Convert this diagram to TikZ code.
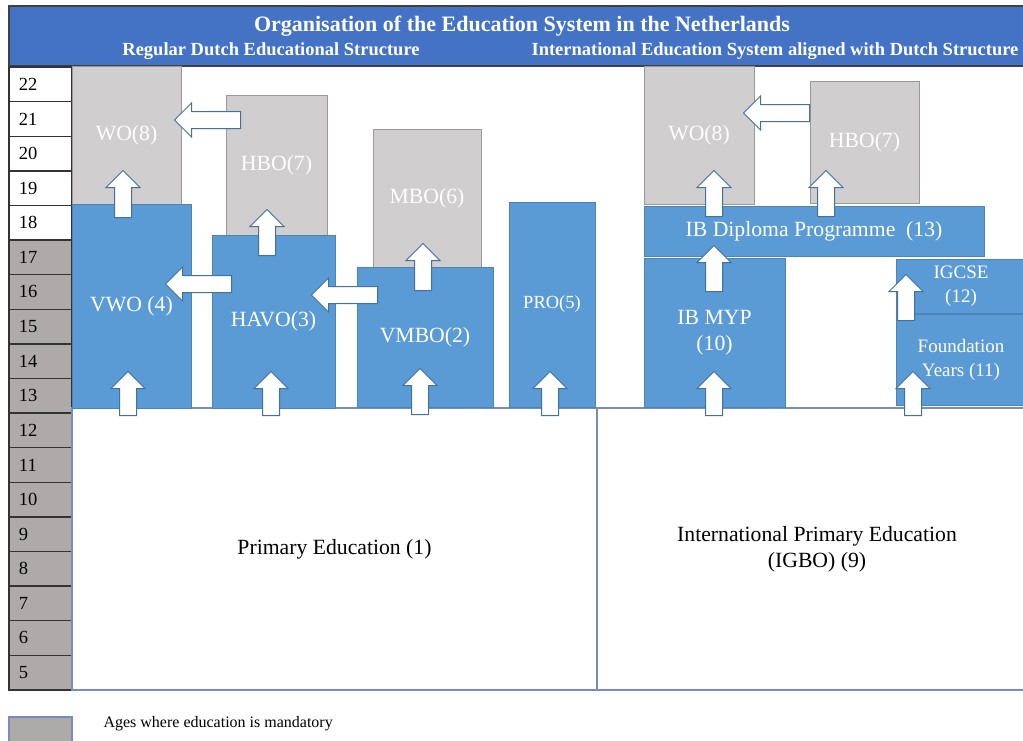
\documentclass[tikz,border=0pt]{standalone}
\usepackage{fontspec}
\setmainfont{Liberation Serif}
\usepackage{xcolor}
\usepackage{tikz}
\usetikzlibrary{shapes.arrows}
\definecolor{Head-Blue}{RGB}{ 68,114,196}
\definecolor{Box-Blue}{RGB}{ 91,155,213}
\definecolor{Box-Gray}{RGB}{208,206,206}
\definecolor{Age-Gray}{RGB}{174,170,170}
\definecolor{Arrow-Line}{RGB}{ 65,113,156}
\definecolor{Frame-Blue}{RGB}{118,140,190}
\tikzstyle{b}=[rectangle,inner sep=0pt,align=center,text=white,font=\fontsize{21.7}{26}\selectfont]
\tikzstyle{b-blue}=[b,fill=Box-Blue,draw=Box-Blue!85!black,line width=0.8pt]
\tikzstyle{b-gray}=[b,fill=Box-Gray,draw=black!40,line width=0.8pt]
\tikzstyle{stage}=[b,fill=white,draw=Frame-Blue,line width=1.3pt,text=black]
\tikzstyle{age}=[rectangle,draw=black!80,line width=1.4pt,minimum height=34.6pt,text width=43pt,inner xsep=10pt,inner ysep=0pt,align=left,font=\fontsize{18.5}{22}\selectfont]
\tikzstyle{age-free}=[age,fill=white]
\tikzstyle{age-due}=[age,fill=Age-Gray]
\tikzstyle{a}=[single arrow,draw=Arrow-Line,fill=white,line width=1pt,inner sep=8pt,single arrow head extend=8.5pt,anchor=tail]
\tikzstyle{a-up}=[a,rotate=90]
\tikzstyle{a-left}=[a,rotate=180]

\begin{document}
\begin{tikzpicture}[x=1pt,y=-1pt]
\useasboundingbox (0,0) rectangle (1023,740);

% Header
\node[rectangle,fill=Head-Blue,draw=black!75,line width=1.3pt,minimum width=1030pt,minimum height=60pt] (header) at (524,36) {};
\node[text=white,font=\bfseries\fontsize{22}{26}\selectfont] (title) at (522,26) {Organisation of the Education System in the Netherlands};
\node[text=white,font=\bfseries\fontsize{18.5}{22}\selectfont] (dutch) at (271,51) {Regular Dutch Educational Structure};
\node[text=white,font=\bfseries\fontsize{18.5}{22}\selectfont] (intl)  at (775,51) {International Education System aligned with Dutch Structure};

% Ages
\node[age-free] (age22) at (40.5, 84.3) {22};
\node[age-free] (age21) at (40.5,118.9) {21};
\node[age-free] (age20) at (40.5,153.5) {20};
\node[age-free] (age19) at (40.5,188.1) {19};
\node[age-free] (age18) at (40.5,222.7) {18};
\node[age-due]  (age17) at (40.5,257.3) {17};
\node[age-due]  (age16) at (40.5,291.9) {16};
\node[age-due]  (age15) at (40.5,326.5) {15};
\node[age-due]  (age14) at (40.5,361.1) {14};
\node[age-due]  (age13) at (40.5,395.7) {13};
\node[age-due]  (age12) at (40.5,430.3) {12};
\node[age-due]  (age11) at (40.5,464.9) {11};
\node[age-due]  (age10) at (40.5,499.5) {10};
\node[age-due]  (age9)  at (40.5,534.1) {9};
\node[age-due]  (age8)  at (40.5,568.7) {8};
\node[age-due]  (age7)  at (40.5,603.3) {7};
\node[age-due]  (age6)  at (40.5,637.9) {6};
\node[age-due]  (age5)  at (40.5,672.5) {5};

% Primary
\node[stage,minimum width=525pt,minimum height=282pt] (primary)      at (334.5,549) {Primary Education (1)};
\node[stage,minimum width=440pt,minimum height=282pt] (intl primary) at (817,549)   {International Primary Education\\(IGBO) (9)};

% Dutch structure
\node[b-gray,minimum width=109pt,minimum height=138pt] (wo)   at (126.5,135) {WO(8)};
\node[b-gray,minimum width=101pt,minimum height=140pt] (hbo)  at (276.5,165) {HBO(7)};
\node[b-gray,minimum width=108pt,minimum height=138pt] (mbo)  at (427,198)   {MBO(6)};
\node[b-blue,minimum width=119pt,minimum height=204pt] (vwo)  at (131.5,306) {VWO (4)};
\node[b-blue,minimum width=123pt,minimum height=173pt] (havo) at (273.5,321.5) {HAVO(3)};
\node[b-blue,minimum width=136pt,minimum height=140pt] (vmbo) at (425,337)   {VMBO(2)};
\node[b-blue,minimum width=86pt,minimum height=205pt,font=\fontsize{18.5}{22}\selectfont] (pro) at (552,304.5) {PRO(5)};

% International structure
\node[b-gray,minimum width=110pt,minimum height=138pt] (ib wo)  at (699,135)   {WO(8)};
\node[b-gray,minimum width=109pt,minimum height=122pt] (ib hbo) at (864.5,142) {HBO(7)};
\node[b-blue,minimum width=340pt,minimum height=50pt]  (ibdp)   at (814,231)   {IB Diploma Programme\ \ (13)};
\node[b-blue,minimum width=141pt,minimum height=149pt] (myp)    at (714.5,333) {IB MYP\\(10)};
\node[b-blue,minimum width=130pt,minimum height=54pt,font=\fontsize{19}{24}\selectfont]  (igcse)      at (961,286)   {IGCSE\\(12)};
\node[b-blue,minimum width=130pt,minimum height=91pt,font=\fontsize{19}{24}\selectfont]  (foundation) at (961,359.5) {Foundation\\Years (11)};

% Arrows
\node[a-up,minimum height=47pt] (vwo to wo)     at (123,218) {};
\node[a-up,minimum height=44pt] (to vwo)        at (128,416) {};
\node[a-up,minimum height=46pt] (havo to hbo)   at (267,256) {};
\node[a-up,minimum height=44pt] (to havo)       at (271,416) {};
\node[a-up,minimum height=47pt] (vmbo to mbo)   at (423,291) {};
\node[a-up,minimum height=46pt] (to vmbo)       at (420,415) {};
\node[a-up,minimum height=44pt] (to pro)        at (550,416) {};
\node[a-up,minimum height=44pt] (to myp)        at (714,416) {};
\node[a-up,minimum height=46pt] (myp to ibdp)   at (714,292) {};
\node[a-up,minimum height=46pt] (ibdp to wo)    at (714,217) {};
\node[a-up,minimum height=46pt] (ibdp to hbo)   at (826,217) {};
\node[a-up,minimum height=44pt] (to foundation) at (913,416) {};
\node[a-up,minimum height=46pt] (to igcse)      at (906,321) {};
\node[a-left,minimum height=66pt] (hbo to wo)       at (241,120) {};
\node[a-left,minimum height=66pt] (havo to vwo)     at (232,284) {};
\node[a-left,minimum height=66pt] (vmbo to havo)    at (378,295) {};
\node[a-left,minimum height=66pt] (ib hbo to ib wo) at (810,113) {};

% Legend
\node[rectangle,fill=Age-Gray,draw=Frame-Blue,line width=1.3pt,minimum width=63pt,minimum height=28pt] (legend) at (40.5,731) {};
\node[anchor=west,font=\fontsize{16}{19}\selectfont] (legend text) at (100,724) {Ages where education is mandatory};

\end{tikzpicture}
\end{document}
